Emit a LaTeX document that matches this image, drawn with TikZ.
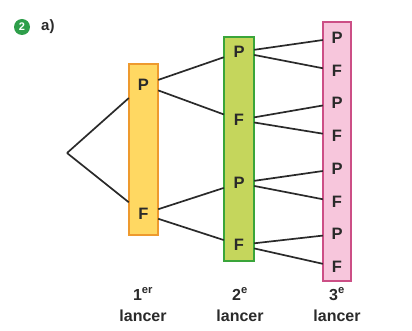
\documentclass[tikz,border=0pt]{standalone}
\usepackage{fontspec}
\setmainfont{Liberation Sans}
\definecolor{ofill}{HTML}{FFD862}
\definecolor{oline}{HTML}{EE9A2E}
\definecolor{gfill}{HTML}{C5D65C}
\definecolor{gline}{HTML}{3AA53A}
\definecolor{pfill}{HTML}{F7C6DC}
\definecolor{pline}{HTML}{CC4F86}
\definecolor{badge}{HTML}{2E9E4A}
\definecolor{ink}{HTML}{2A2A2A}
\begin{document}
\begin{tikzpicture}[x=1pt,y=-1pt,
  lettr/.style={font=\bfseries\fontsize{16.5}{16.5}\selectfont, text=ink, minimum width=29pt, inner sep=0pt},
  olet/.style={lettr, minimum height=36pt},
  glet/.style={lettr, minimum width=30pt, minimum height=24pt},
  plet/.style={lettr, minimum width=28pt, minimum height=20pt},
  edge/.style={draw=ink, line width=1.7pt},
  caption/.style={font=\bfseries\fontsize{16}{16}\selectfont, text=ink, inner sep=0pt}]
\useasboundingbox (0,0) rectangle (412,331);
% boxes
\draw[fill=ofill, draw=oline, line width=1.5pt] (129,64) rectangle (158,235);
\draw[fill=gfill, draw=gline, line width=1.5pt] (224,37) rectangle (254,261);
\draw[fill=pfill, draw=pline, line width=1.2pt] (323,22) rectangle (351,281);
% header
\node[circle, fill=badge, minimum size=16pt, inner sep=0pt, text=white,
  font=\bfseries\fontsize{11}{11}\selectfont] (badge) at (22,27) {2};
\node[font=\bfseries\fontsize{15}{15}\selectfont, text=ink, anchor=west, inner sep=0pt] (part) at (41,27) {a)};
% nodes
\coordinate (root) at (67,153);
\node[olet] (o1) at (143.5,85) {P};
\node[olet] (o2) at (143.5,214) {F};
\node[glet] (g1) at (239,52) {P};
\node[glet] (g2) at (239,120) {F};
\node[glet] (g3) at (239,183) {P};
\node[glet] (g4) at (239,245) {F};
\node[plet] (p1) at (337,38) {P};
\node[plet] (p2) at (337,71) {F};
\node[plet] (p3) at (337,103) {P};
\node[plet] (p4) at (337,136) {F};
\node[plet] (p5) at (337,169) {P};
\node[plet] (p6) at (337,202) {F};
\node[plet] (p7) at (337,234) {P};
\node[plet] (p8) at (337,267) {F};
% edges
\draw[edge] (root) -- (o1);
\draw[edge] (root) -- (o2);
\draw[edge] (o1) -- (g1);
\draw[edge] (o1) -- (g2);
\draw[edge] (o2) -- (g3);
\draw[edge] (o2) -- (g4);
\draw[edge] (g1) -- (p1);
\draw[edge] (g1) -- (p2);
\draw[edge] (g2) -- (p3);
\draw[edge] (g2) -- (p4);
\draw[edge] (g3) -- (p5);
\draw[edge] (g3) -- (p6);
\draw[edge] (g4) -- (p7);
\draw[edge] (g4) -- (p8);
% captions
\node[caption] (n1) at (143,294) {1\textsuperscript{er}};
\node[caption] (l1) at (143,316) {lancer};
\node[caption] (n2) at (240,294) {2\textsuperscript{e}};
\node[caption] (l2) at (240,316) {lancer};
\node[caption] (n3) at (337,294) {3\textsuperscript{e}};
\node[caption] (l3) at (337,316) {lancer};
\end{tikzpicture}
\end{document}
